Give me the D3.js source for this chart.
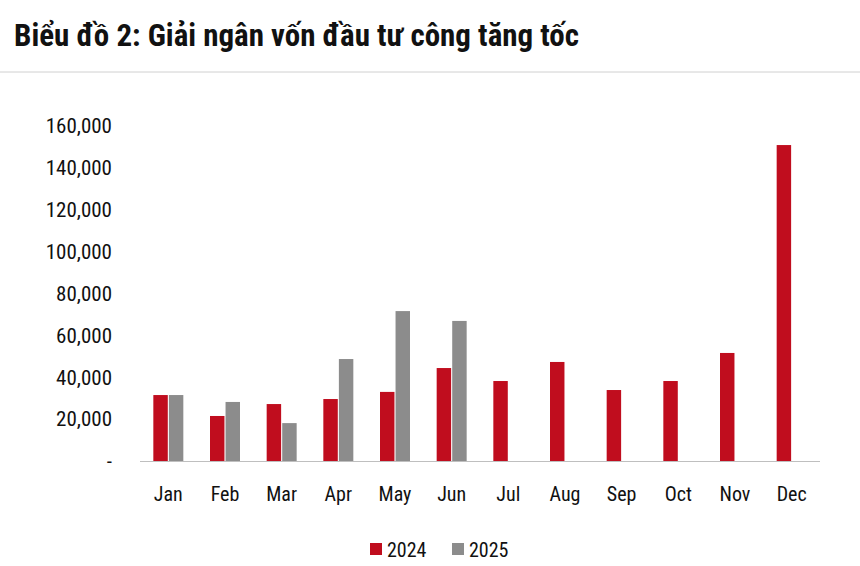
<!DOCTYPE html>
<html><head><meta charset="utf-8">
<script src="https://cdn.jsdelivr.net/npm/d3@7"></script>
<style>
body{margin:0;background:#fff;}
text{font-family:"Liberation Sans Narrow","Roboto Condensed","Liberation Sans",Arial,sans-serif;font-stretch:condensed;}
</style></head>
<body><svg id="chart" width="860" height="566"></svg>
<script>
const months = ["Jan","Feb","Mar","Apr","May","Jun","Jul","Aug","Sep","Oct","Nov","Dec"];
const series = ["2024","2025"];
const values2024 = [31500,21500,27200,29600,33000,44400,38200,47300,33900,38200,51600,150900];
const values2025 = [31500,28200,18100,48700,71600,66900,null,null,null,null,null,null];
const yTicks = [0,20000,40000,60000,80000,100000,120000,140000,160000];
const colors = {"2024":"#c00d1e","2025":"#8c8c8c"};

const svg = d3.select("#chart");

svg.append("text").attr("x",14).attr("y",46)
  .style("font-size","31px").style("font-weight","bold").attr("fill","#111")
  .text("Biểu đồ 2: Giải ngân vốn đầu tư công tăng tốc");
svg.append("line").attr("x1",0).attr("x2",860).attr("y1",72).attr("y2",72)
  .attr("stroke","#d0d0d0").attr("stroke-width",1);

const x = d3.scaleBand().domain(months).range([140,820]);
const sub = d3.scaleBand().domain(series).range([x.bandwidth()/2-15, x.bandwidth()/2+15]).paddingInner(0.07);
const y = d3.scaleLinear().domain([0,160000]).range([461,126]);

svg.append("g").selectAll("text").data(yTicks).enter().append("text")
  .attr("x",112).attr("y",d=>y(d)).attr("dy","0.35em").attr("text-anchor","end")
  .style("font-size","21px").attr("fill","#111")
  .text(d=>d===0?"-":d3.format(",")(d));

const rows = months.map((m,i)=>({m, v:{"2024":values2024[i],"2025":values2025[i]}}));
const g = svg.append("g");
series.forEach(s=>{
  g.selectAll(".b"+s).data(rows.filter(r=>r.v[s]!=null)).enter().append("rect")
    .attr("x",r=>x(r.m)+sub(s)).attr("width",sub.bandwidth())
    .attr("y",r=>y(r.v[s])).attr("height",r=>y(0)-y(r.v[s]))
    .attr("fill",colors[s]);
});

svg.append("line").attr("x1",140).attr("x2",820).attr("y1",461.5).attr("y2",461.5)
  .attr("stroke","#bfbfbf");

svg.append("g").selectAll("text").data(months).enter().append("text")
  .attr("x",d=>x(d)+x.bandwidth()/2).attr("y",501).attr("text-anchor","middle")
  .style("font-size","20px").attr("fill","#111").text(d=>d);

const lg = svg.append("g");
series.forEach((s,i)=>{
  const lx = 370 + i*82;
  lg.append("rect").attr("x",lx).attr("y",543).attr("width",12).attr("height",12).attr("fill",colors[s]);
  lg.append("text").attr("x",lx+17).attr("y",557).style("font-size","20px").attr("fill","#111").text(s);
});
</script></body></html>
